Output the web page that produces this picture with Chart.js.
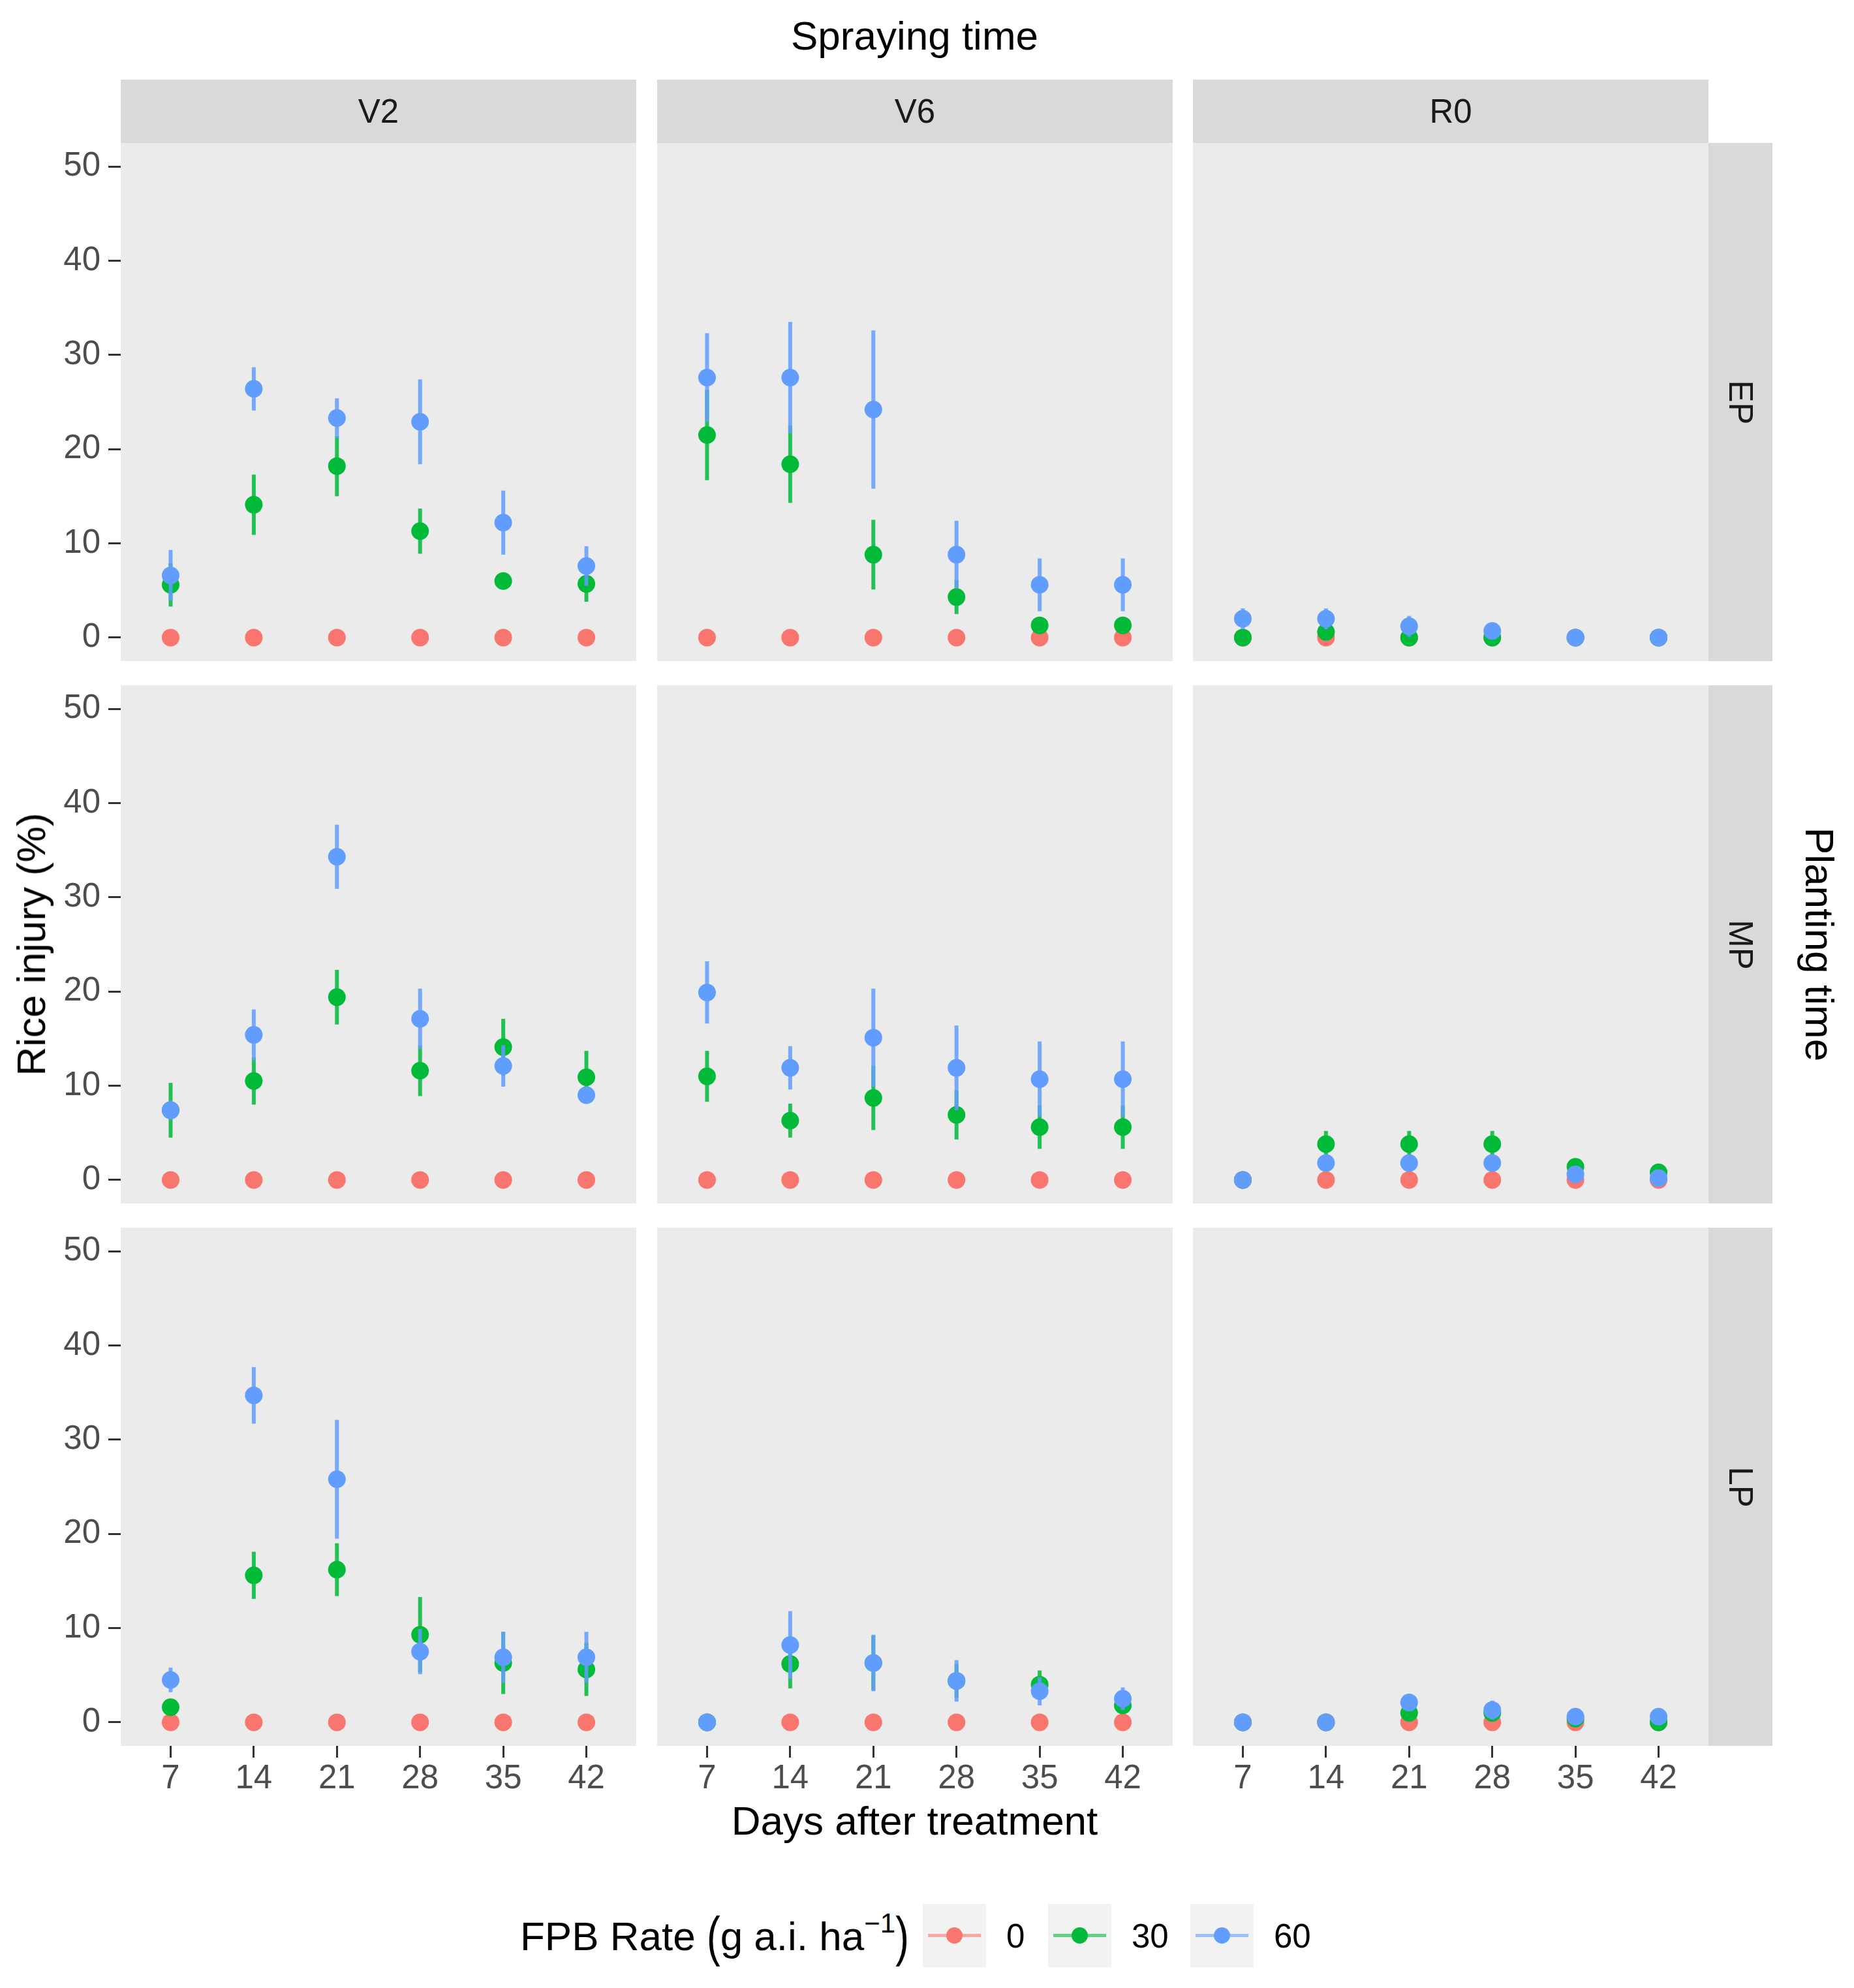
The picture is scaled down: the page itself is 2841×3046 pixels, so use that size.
<!DOCTYPE html>
<html>
<head>
<meta charset="utf-8">
<script src="https://cdn.jsdelivr.net/npm/chart.js@4.4.1/dist/chart.umd.min.js"></script>
<style>
  html, body { margin: 0; padding: 0; background: #ffffff; }
  body { position: relative; width: 2841px; height: 3046px; overflow: hidden;
         font-family: "Liberation Sans", Arial, Helvetica, sans-serif; }
  canvas { position: absolute; }
  .txt { position: absolute; white-space: nowrap; line-height: 1; }
  .strip { position: absolute; background: #d9d9d9; color: #1a1a1a; font-size: 51px;
           display: flex; align-items: center; justify-content: center; }
  .rot { display: inline-block; transform: rotate(90deg); }
  .key { position: absolute; background: #f2f2f2; width: 97px; height: 97px; }
  .key .ln { position: absolute; left: 8px; right: 8px; top: 46px; height: 5px; opacity: 0.6; }
  .key .pt { position: absolute; left: 36px; top: 36px; width: 25px; height: 25px; border-radius: 50%; }
</style>
</head>
<body>
<script>
// days after treatment, facets, fill rates
var days = [7, 14, 21, 28, 35, 42];
var sprayTimes = ["V2", "V6", "R0"];
var plantTimes = ["EP", "MP", "LP"];
var rateLabels = ["0", "30", "60"];
var yTicks = [0, 10, 20, 30, 40, 50];

// rate 0 is zero everywhere
var rate0 = [0, 0, 0, 0, 0, 0];

// EP
var ep_v2_30 = [5.6, 14.1, 18.2, 11.3, 6.0, 5.7];
var ep_v2_30_se = [2.3, 3.2, 3.2, 2.4, 0.3, 1.9];
var ep_v2_60 = [6.6, 26.4, 23.3, 22.9, 12.2, 7.6];
var ep_v2_60_se = [2.7, 2.3, 2.1, 4.5, 3.4, 2.1];
var ep_v6_30 = [21.5, 18.4, 8.8, 4.3, 1.3, 1.3];
var ep_v6_30_se = [4.8, 4.1, 3.7, 1.8, 0.4, 0.4];
var ep_v6_60 = [27.6, 27.6, 24.2, 8.8, 5.6, 5.6];
var ep_v6_60_se = [4.7, 5.9, 8.4, 3.6, 2.8, 2.8];
var ep_r0_30 = [0, 0.6, 0, 0, 0, 0];
var ep_r0_30_se = [0, 0.2, 0, 0, 0, 0];
var ep_r0_60 = [2.0, 2.0, 1.2, 0.7, 0, 0];
var ep_r0_60_se = [1.1, 1.1, 1.1, 0.3, 0, 0];

// MP
var mp_v2_30 = [7.4, 10.5, 19.4, 11.6, 14.1, 10.9];
var mp_v2_30_se = [2.9, 2.5, 2.9, 2.7, 3.0, 2.8];
var mp_v2_60 = [7.4, 15.4, 34.3, 17.1, 12.1, 9.0];
var mp_v2_60_se = [1.0, 2.7, 3.4, 3.2, 2.2, 0.9];
var mp_v6_30 = [11.0, 6.3, 8.7, 6.9, 5.6, 5.6];
var mp_v6_30_se = [2.7, 1.8, 3.4, 2.6, 2.3, 2.3];
var mp_v6_60 = [19.9, 11.9, 15.1, 11.9, 10.7, 10.7];
var mp_v6_60_se = [3.3, 2.3, 5.2, 4.5, 4.0, 4.0];
var mp_r0_30 = [0, 3.8, 3.8, 3.8, 1.4, 0.8];
var mp_r0_30_se = [0, 1.4, 1.4, 1.4, 0.3, 0.2];
var mp_r0_60 = [0, 1.8, 1.8, 1.8, 0.6, 0.2];
var mp_r0_60_se = [0, 0.3, 0.3, 0.3, 0.2, 0.1];

// LP
var lp_v2_30 = [1.6, 15.6, 16.2, 9.3, 6.3, 5.6];
var lp_v2_30_se = [0.5, 2.5, 2.8, 4.0, 3.3, 2.8];
var lp_v2_60 = [4.5, 34.7, 25.8, 7.5, 6.9, 6.9];
var lp_v2_60_se = [1.3, 3.0, 6.3, 2.4, 2.7, 2.7];
var lp_v6_30 = [0, 6.2, 6.3, 4.4, 4.0, 1.8];
var lp_v6_30_se = [0, 2.6, 2.9, 1.8, 1.5, 0.4];
var lp_v6_60 = [0, 8.2, 6.3, 4.4, 3.3, 2.5];
var lp_v6_60_se = [0, 3.6, 3.0, 2.2, 1.5, 1.2];
var lp_r0_30 = [0, 0, 1.0, 1.0, 0.4, 0];
var lp_r0_30_se = [0, 0, 0.4, 0.3, 0.1, 0];
var lp_r0_60 = [0, 0, 2.1, 1.3, 0.6, 0.6];
var lp_r0_60_se = [0, 0, 0.9, 1.0, 0.2, 0.2];

// panels[row][col] = [rate30, rate30 se, rate60, rate60 se]
var panels = [
    [[ep_v2_30, ep_v2_30_se, ep_v2_60, ep_v2_60_se],
     [ep_v6_30, ep_v6_30_se, ep_v6_60, ep_v6_60_se],
     [ep_r0_30, ep_r0_30_se, ep_r0_60, ep_r0_60_se]],
    [[mp_v2_30, mp_v2_30_se, mp_v2_60, mp_v2_60_se],
     [mp_v6_30, mp_v6_30_se, mp_v6_60, mp_v6_60_se],
     [mp_r0_30, mp_r0_30_se, mp_r0_60, mp_r0_60_se]],
    [[lp_v2_30, lp_v2_30_se, lp_v2_60, lp_v2_60_se],
     [lp_v6_30, lp_v6_30_se, lp_v6_60, lp_v6_60_se],
     [lp_r0_30, lp_r0_30_se, lp_r0_60, lp_r0_60_se]]
];

var colours = ["#F8766D", "#00BA38", "#619CFF"];
var barColours = ["rgba(248,118,109,0.85)", "rgba(0,186,56,0.85)", "rgba(97,156,255,0.85)"];

// layout
var colLeft = [185, 1007, 1828];
var rowTop = [219, 1050, 1881];
var PANEL_W = 790;
var PANEL_H = 794;
var X_AXIS_H = 100;
var FONT = '"Liberation Sans", Arial, Helvetica, sans-serif';

// grey panel background
var panelBg = {
    id: "panelBg",
    beforeDraw: function(chart) {
        var a = chart.chartArea;
        chart.ctx.save();
        chart.ctx.fillStyle = "#ebebeb";
        chart.ctx.fillRect(a.left, a.top, a.right - a.left, a.bottom - a.top);
        chart.ctx.restore();
    }
};

// vertical ranges drawn under each dataset's points
var errorBars = {
    id: "errorBars",
    beforeDatasetDraw: function(chart, args) {
        var ds = chart.data.datasets[args.index];
        if (!ds.errors) return;
        var xs = chart.scales.x, ys = chart.scales.y, ctx = chart.ctx;
        ctx.save();
        ctx.strokeStyle = ds.barColor;
        ctx.lineWidth = 6;
        ds.data.forEach(function(p, i) {
            var e = ds.errors[i];
            if (!e) return;
            var px = xs.getPixelForValue(p.x);
            ctx.beginPath();
            ctx.moveTo(px, ys.getPixelForValue(p.y - e));
            ctx.lineTo(px, ys.getPixelForValue(p.y + e));
            ctx.stroke();
        });
        ctx.restore();
    }
};

function points(values) {
    return values.map(function(v, i) { return { x: days[i], y: v }; });
}

function makeDataset(values, errors, k) {
    return {
        label: rateLabels[k],
        data: points(values),
        errors: errors,
        barColor: barColours[k],
        backgroundColor: colours[k],
        borderWidth: 0,
        pointRadius: 13.5,
        pointHoverRadius: 13.5,
        showLine: false,
        order: 3 - k
    };
}

function addText(html, css) {
    var d = document.createElement("div");
    d.className = "txt";
    d.innerHTML = html;
    Object.assign(d.style, css);
    document.body.appendChild(d);
    return d;
}

Chart.defaults.font.family = FONT;

for (var r = 0; r < 3; r++) {
    for (var c = 0; c < 3; c++) {
        var p = panels[r][c];
        var showY = c === 0;
        var showX = r === 2;
        var cv = document.createElement("canvas");
        var w = showY ? colLeft[0] + PANEL_W : PANEL_W;
        var h = showX ? PANEL_H + X_AXIS_H : PANEL_H;
        cv.width = w;
        cv.height = h;
        cv.style.width = w + "px";
        cv.style.height = h + "px";
        cv.style.left = (showY ? 0 : colLeft[c]) + "px";
        cv.style.top = rowTop[r] + "px";
        document.body.appendChild(cv);

        new Chart(cv, {
            type: "scatter",
            data: {
                datasets: [
                    makeDataset(rate0, null, 0),
                    makeDataset(p[0], p[1], 1),
                    makeDataset(p[2], p[3], 2)
                ]
            },
            options: {
                responsive: false,
                animation: false,
                devicePixelRatio: 1,
                layout: { padding: 0, autoPadding: false },
                plugins: { legend: { display: false }, tooltip: { enabled: false } },
                scales: {
                    x: {
                        type: "linear",
                        display: showX,
                        min: 2.8,
                        max: 46.2,
                        afterBuildTicks: function(s) {
                            s.ticks = days.map(function(v) { return { value: v }; });
                        },
                        afterFit: showX ? function(s) {
                            s.height = X_AXIS_H;
                            s.paddingLeft = 0;
                            s.paddingRight = 0;
                        } : undefined,
                        grid: { drawOnChartArea: false, drawTicks: true, tickLength: 18,
                                tickWidth: 3, tickColor: "#333333" },
                        border: { display: false },
                        ticks: { color: "#4d4d4d", font: { size: 51 }, padding: 2,
                                 maxRotation: 0, autoSkip: false }
                    },
                    y: {
                        type: "linear",
                        display: showY,
                        min: -2.5,
                        max: 52.5,
                        afterBuildTicks: function(s) {
                            s.ticks = yTicks.map(function(v) { return { value: v }; });
                        },
                        afterFit: showY ? function(s) {
                            s.width = colLeft[0];
                            s.paddingTop = 0;
                            s.paddingBottom = 0;
                        } : undefined,
                        grid: { drawOnChartArea: false, drawTicks: true, tickLength: 19,
                                tickWidth: 3, tickColor: "#333333" },
                        border: { display: false },
                        ticks: { color: "#4d4d4d", font: { size: 51 }, padding: 12 }
                    }
                }
            },
            plugins: [panelBg, errorBars]
        });
    }
}

// facet strips
sprayTimes.forEach(function(s, c) {
    var d = document.createElement("div");
    d.className = "strip";
    d.textContent = s;
    Object.assign(d.style, { left: colLeft[c] + "px", top: "122px", width: PANEL_W + "px", height: "97px" });
    document.body.appendChild(d);
});
plantTimes.forEach(function(s, r) {
    var d = document.createElement("div");
    d.className = "strip";
    d.innerHTML = '<span class="rot">' + s + '</span>';
    Object.assign(d.style, { left: "2618px", top: rowTop[r] + "px", width: "98px", height: PANEL_H + "px" });
    document.body.appendChild(d);
});

// titles
var midX = (colLeft[0] + colLeft[2] + PANEL_W) / 2;
var midY = (rowTop[0] + rowTop[2] + PANEL_H) / 2;
addText("Spraying time", { fontSize: "62px", color: "#000", left: midX + "px", top: "55px",
    transform: "translate(-50%, -50%)" });
addText("Days after treatment", { fontSize: "62px", color: "#000", left: midX + "px", top: "2790px",
    transform: "translate(-50%, -50%)" });
addText("Rice injury (%)", { fontSize: "62px", color: "#000", left: "48px", top: midY + "px",
    transform: "translate(-50%, -50%) rotate(-90deg)" });
addText("Planting time", { fontSize: "62px", color: "#000", left: "2788px", top: midY + "px",
    transform: "translate(-50%, -50%) rotate(90deg)" });

// legend
addText('FPB Rate <span style="display:inline-block;transform:scaleY(1.35)">(</span>g a.i. ha' +
        '<sup style="font-size:42px;position:relative;top:-6px">\u22121</sup>' +
        '<span style="display:inline-block;transform:scaleY(1.35)">)</span>',
        { fontSize: "62px", color: "#000", left: "797px", top: "2965px", transform: "translateY(-50%)" });
var keyLeft = [1414, 1606, 1824];
rateLabels.forEach(function(lab, k) {
    var key = document.createElement("div");
    key.className = "key";
    key.style.left = keyLeft[k] + "px";
    key.style.top = "2917px";
    key.innerHTML = '<div class="ln" style="background:' + colours[k] + '"></div>' +
                    '<div class="pt" style="background:' + colours[k] + '"></div>';
    document.body.appendChild(key);
    addText(lab, { fontSize: "51px", color: "#000", left: (keyLeft[k] + 128) + "px", top: "2966px",
        transform: "translateY(-50%)" });
});
</script>
</body>
</html>
